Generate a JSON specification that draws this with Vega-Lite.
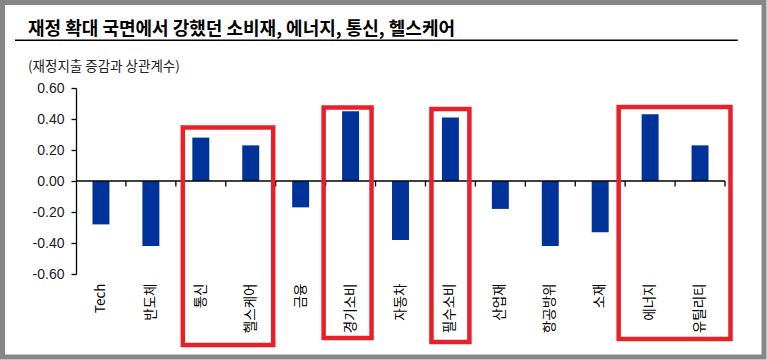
{
  "$schema": "https://vega.github.io/schema/vega-lite/v6.json",
  "width": 649,
  "height": 186,
  "autosize": {"type": "none"},
  "padding": {"left": 76, "top": 88, "right": 42, "bottom": 86},
  "background": "white",
  "config": {
    "view": {"stroke": null},
    "font": "Noto Sans CJK KR"
  },
  "title": {
    "text": "재정 확대 국면에서 강했던 소비재, 에너지, 통신, 헬스케어",
    "subtitle": "(재정지출 증감과 상관계수)",
    "anchor": "start",
    "frame": "group",
    "dx": -48,
    "dy": 81,
    "offset": 8,
    "font": "Noto Sans CJK KR",
    "fontSize": 18,
    "fontWeight": "bold",
    "color": "#000000",
    "subtitleFont": "Noto Sans CJK KR",
    "subtitleFontSize": 13.5,
    "subtitleColor": "#222222",
    "subtitlePadding": 21
  },
  "datasets": {
    "bars": [
      {"cat": "Tech", "val": -0.28},
      {"cat": "반도체", "val": -0.42},
      {"cat": "통신", "val": 0.28},
      {"cat": "헬스케어", "val": 0.23},
      {"cat": "금융", "val": -0.17},
      {"cat": "경기소비", "val": 0.45},
      {"cat": "자동차", "val": -0.38},
      {"cat": "필수소비", "val": 0.41},
      {"cat": "산업재", "val": -0.18},
      {"cat": "항공방위", "val": -0.42},
      {"cat": "소재", "val": -0.33},
      {"cat": "에너지", "val": 0.43},
      {"cat": "유틸리티", "val": 0.23}
    ],
    "zero": [{"v": 0}],
    "boxes": [
      {"x0": 2.14, "x1": 3.95, "ytop": 0.345, "ybot": -1.058},
      {"x0": 4.96, "x1": 5.92, "ytop": 0.474, "ybot": -1.013},
      {"x0": 7.12, "x1": 7.88, "ytop": 0.465, "ybot": -1.039},
      {"x0": 10.87, "x1": 13.11, "ytop": 0.477, "ybot": -1.019}
    ],
    "frame": [
      {"x0": -1.472, "x1": 13.781, "ytop": 1.1516, "ybot": -1.1355}
    ],
    "underline": [
      {"x0": -1.222, "x1": 13.255, "yv": 0.908}
    ]
  },
  "resolve": {"scale": {"x": "independent"}, "axis": {"y": "independent"}},
  "layer": [
    {
      "data": {"name": "bars"},
      "mark": {"type": "bar", "width": {"band": 0.34}, "color": "#003399"},
      "encoding": {
        "x": {
          "field": "cat", "type": "nominal", "sort": null, "title": null,
          "scale": {"paddingInner": 0, "paddingOuter": 0},
          "axis": {
            "labelAngle": -90, "labelPadding": 9, "ticks": false, "domain": false,
            "labelFontSize": 13.5, "labelColor": "#000000", "labelFont": "Noto Sans CJK KR",
            "labelOverlap": false
          }
        },
        "y": {
          "field": "val", "type": "quantitative", "title": null,
          "scale": {"domain": [-0.6, 0.6], "nice": false, "zero": false},
          "axis": {
            "values": [-0.6, -0.4, -0.2, 0, 0.2, 0.4, 0.6],
            "labelExpr": "replace(format(datum.value, '.2f'), '\u2212', '-')",
            "labelOverlap": false,
            "domain": true,
            "ticks": true,
            "grid": false, "tickSize": 5, "tickColor": "#000000", "domainColor": "#000000",
            "domainWidth": 1.3, "tickWidth": 1.3,
            "labelFont": "Liberation Sans", "labelFontSize": 14, "labelColor": "#1a1a2e",
            "labelPadding": 7
          }
        }
      }
    },
    {
      "data": {"name": "zero"},
      "mark": {"type": "rule", "color": "#000000", "strokeWidth": 1.5},
      "encoding": {"y": {"field": "v", "type": "quantitative", "axis": null}}
    },
    {
      "data": {"name": "bars"},
      "mark": {"type": "rule", "color": "#000000", "strokeWidth": 1.3},
      "encoding": {
        "x": {
          "field": "cat", "type": "nominal", "sort": null, "bandPosition": 1, "axis": null,
          "scale": {"type": "band", "paddingInner": 0, "paddingOuter": 0}
        },
        "y": {"datum": 0, "type": "quantitative", "axis": null},
        "y2": {"datum": -0.035}
      }
    },
    {
      "data": {"name": "boxes"},
      "mark": {"type": "rect", "fill": null, "stroke": "#e8202a", "strokeWidth": 4.5},
      "encoding": {
        "x": {"field": "x0", "type": "quantitative", "axis": null, "scale": {"domain": [0, 13], "nice": false, "zero": false}},
        "x2": {"field": "x1"},
        "y": {"field": "ytop", "type": "quantitative", "axis": null},
        "y2": {"field": "ybot"}
      }
    },
    {
      "data": {"name": "frame"},
      "mark": {"type": "rect", "fill": null, "stroke": "#878787", "strokeWidth": 5},
      "encoding": {
        "x": {"field": "x0", "type": "quantitative", "axis": null, "scale": {"domain": [0, 13], "nice": false, "zero": false}},
        "x2": {"field": "x1"},
        "y": {"field": "ytop", "type": "quantitative", "axis": null},
        "y2": {"field": "ybot"}
      }
    },
    {
      "data": {"name": "underline"},
      "mark": {"type": "rule", "color": "#000000", "strokeWidth": 1.5},
      "encoding": {
        "x": {"field": "x0", "type": "quantitative", "axis": null, "scale": {"domain": [0, 13], "nice": false, "zero": false}},
        "x2": {"field": "x1"},
        "y": {"field": "yv", "type": "quantitative", "axis": null}
      }
    }
  ]
}
